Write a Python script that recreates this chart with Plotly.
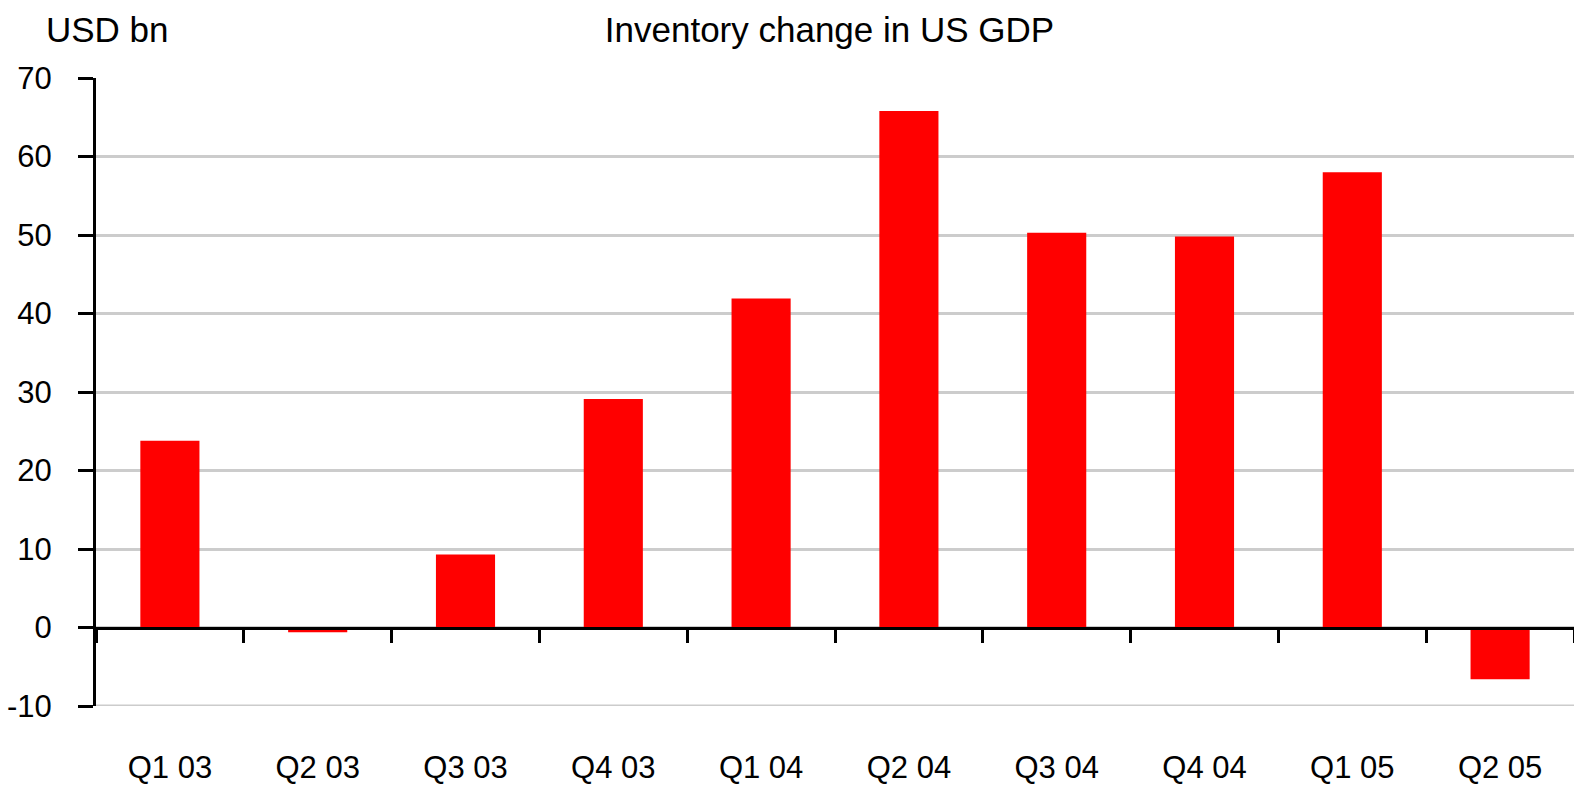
import plotly.graph_objects as go

categories = ["Q1 03", "Q2 03", "Q3 03", "Q4 03", "Q1 04", "Q2 04", "Q3 04", "Q4 04", "Q1 05", "Q2 05"]
values = [23.8, -0.6, 9.3, 29.1, 41.9, 65.8, 50.3, 49.8, 58.0, -6.6]
y_ticks = [-10, 0, 10, 20, 30, 40, 50, 60, 70]
y_tick_labels = ["-10", "0", "10", "20", "30", "40", "50", "60", "70"]

FONT = "Liberation Sans, Arial, sans-serif"

fig = go.Figure(go.Bar(x=categories, y=values, marker=dict(color="#ff0000", line=dict(width=0))))

fig.update_layout(
    width=1574, height=785,
    margin=dict(l=96, r=0, t=78, b=79, autoexpand=False),
    paper_bgcolor="white", plot_bgcolor="white",
    bargap=0.6, showlegend=False,
    font=dict(family=FONT, size=31, color="black"),
    title=dict(text="Inventory change in US GDP", x=0.527, xanchor="center", y=0.962, yanchor="middle",
               font=dict(family=FONT, size=35, color="black"), automargin=False),
    annotations=[dict(text="USD bn", xref="paper", yref="paper", x=-0.035, y=1.078,
                      xanchor="left", yanchor="middle", showarrow=False,
                      font=dict(family=FONT, size=35, color="black"))],
)

# light gridline at the lowest tick (plotly hides the grid line on the plot edge)
fig.add_hline(y=y_ticks[0], line=dict(color="#cccccc", width=3), layer="below")

fig.update_yaxes(
    range=[-10, 70], tickvals=y_ticks, ticktext=y_tick_labels,
    showgrid=True, gridcolor="#cccccc", gridwidth=3,
    zeroline=False, showline=True, linecolor="black", linewidth=3, automargin=False,
    ticks="outside", ticklen=15, tickwidth=3, tickcolor="black", ticklabelstandoff=20,
)
fig.update_xaxes(
    anchor="free", position=0.125, showline=True, linecolor="black", linewidth=3,
    ticks="outside", tickson="boundaries", ticklen=13, tickwidth=3, tickcolor="black",
    showgrid=False, ticklabelstandoff=111, automargin=False,
)

fig.write_html("out.html", config={"displayModeBar": False},
               post_script="document.body.style.margin='0';document.body.style.overflow='hidden';")
